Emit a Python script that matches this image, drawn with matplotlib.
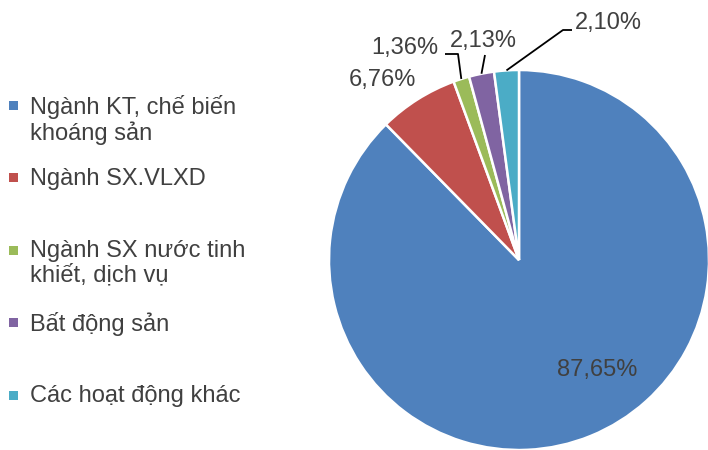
import numpy as np
import matplotlib
matplotlib.use("Agg")
import matplotlib.pyplot as plt
from matplotlib.patches import Rectangle

plt.rcParams["font.family"] = ["Liberation Sans", "DejaVu Sans"]

CATEGORIES = [
    "Ngành KT, chế biến\nkhoáng sản",
    "Ngành SX.VLXD",
    "Ngành SX nước tinh\nkhiết, dịch vụ",
    "Bất động sản",
    "Các hoạt động khác",
]
SHARES = [87.65, 6.76, 1.36, 2.13, 2.10]
LABELS = ["87,65%", "6,76%", "1,36%", "2,13%", "2,10%"]
COLORS = ["#4F81BD", "#C0504D", "#9BBB59", "#8064A2", "#4BACC6"]

INK = "#404040"
W, H = 708, 450
CX, CY, R = 519, 450 - 260, 190

# label text centres (px, y from top) and leader elbows (None = no leader)
TEXT_POS = [(597, 370), (382, 80), (405, 48), (483, 41), (608, 23)]
ELBOWS = [None, None, [(458, 54), (445, 54)], [(485, 55)], [(563, 30), (572, 30)]]

fig = plt.figure(figsize=(W / 100, H / 100), dpi=100)
ax = fig.add_axes([0, 0, 1, 1])

wedges, _ = ax.pie(SHARES, colors=COLORS, startangle=90, counterclock=False,
                   center=(CX, CY), radius=R, frame=True,
                   wedgeprops=dict(edgecolor="white", linewidth=1.8))
ax.set_xlim(0, W)
ax.set_ylim(0, H)
ax.axis("off")

for w, lab, (tx, ty), elbow in zip(wedges, LABELS, TEXT_POS, ELBOWS):
    ax.text(tx, H - ty, lab, ha="center", va="center", fontsize=17, color=INK)
    if elbow:
        mid = np.deg2rad((w.theta1 + w.theta2) / 2)
        x0, y0 = CX + R * np.cos(mid), CY + R * np.sin(mid)
        xs = [x0] + [p[0] for p in elbow]
        ys = [y0] + [H - p[1] for p in elbow]
        ax.plot(xs, ys, color="black", lw=1.3, solid_capstyle="butt")

# legend, one slot every 72.5 px
for i, (lab, col) in enumerate(zip(CATEGORIES, COLORS)):
    y = H - (105 + 72.5 * i)
    ax.add_patch(Rectangle((9, y - 4.5), 9, 9, facecolor=col, edgecolor="none"))
    ax.text(30, y + 10, lab, ha="left", va="top", fontsize=17, color=INK,
            linespacing=1.12)

fig.savefig("out.png", dpi=100)
